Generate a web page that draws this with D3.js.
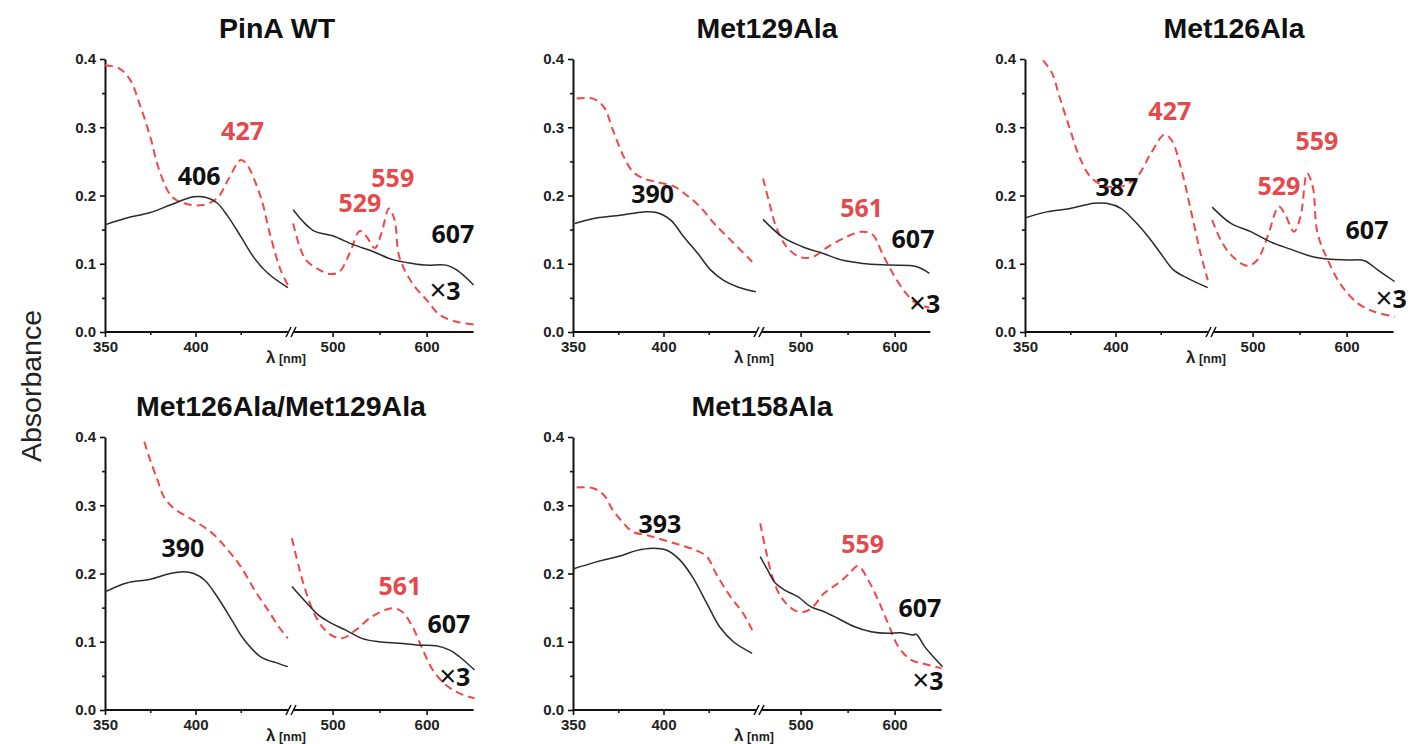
<!DOCTYPE html>
<html>
<head>
<meta charset="utf-8">
<script src="https://cdn.jsdelivr.net/npm/d3@7"></script>
<style>
  body { margin: 0; background: #fff; }
  svg { display: block; }
</style>
</head>
<body>
<script>
(function (d3) {
  "use strict";

  /***** Data: [wavelength nm, absorbance] *****/
  // PinA WT
  var wtBlackL = [[350,.157],[362,.167],[375,.175],[386,.186],[399,.198],[406,.197],[412,.189],[418,.169],[425,.14],[432,.110],[440,.086],[451,.065]];
  var wtRedL = [[350,.391],[358,.386],[364,.369],[369,.335],[375,.286],[380,.237],[387,.198],[395,.1875],[404,.186],[412,.196],[418,.223],[425,.252],[428,.247],[436,.198],[441,.145],[447,.091],[451,.069]];
  var wtBlackR = [[458,.179],[479,.149],[500,.141],[522,.128],[543,.118],[564,.106],[585,.1005],[600,.098],[621,.098],[632,.091],[650,.069]];
  var wtRedR = [[458,.159],[465,.125],[472,.105],[486,.091],[497,.085],[507,.088],[518,.115],[529,.148],[536,.140],[545,.123],[552,.145],[560,.181],[566,.164],[571,.110],[585,.071],[600,.047],[614,.025],[632,.015],[650,.011]];
  var wtLabels = [["406",402,.215,"k"],["427",426,.281,"r"],["529",529,.176,"r"],["559",564,.2125,"r"],["607",628,.130,"k"],["x3",619.6,.047,"k"]];

  // Met129Ala
  var m129BlackL = [[351,.159],[363,.167],[376,.171],[389,.176],[396,.175],[404,.164],[411,.140],[419,.115],[426,.091],[433,.076],[441,.066],[451,.059]];
  var m129RedL = [[352,.342],[361,.342],[367,.330],[372,.296],[378,.257],[383,.235],[389,.225],[396,.220],[406,.213],[413,.200],[420,.184],[428,.159],[437,.135],[449,.103]];
  var m129BlackR = [[460,.165],[481,.139],[502,.125],[524,.115],[545,.105],[566,.1005],[595,.098],[623,.096],[637,.086]];
  var m129RedR = [[460,.225],[467,.188],[474,.154],[485,.125],[499,.110],[513,.110],[527,.123],[545,.137],[566,.147],[577,.142],[587,.115],[598,.086],[612,.057],[623,.042],[637,.036]];
  var m129Labels = [["390",394,.189,"k"],["561",565,.1685,"r"],["607",619.6,.123,"k"],["x3",632,.028,"k"]];

  // Met126Ala
  var m126BlackL = [[350,.167],[362,.176],[375,.181],[388,.1885],[395,.1885],[403,.181],[410,.164],[418,.140],[425,.115],[432,.091],[440,.0785],[451,.065]];
  var m126RedL = [[360,.398],[365,.379],[369,.345],[375,.296],[380,.257],[386,.228],[393,.215],[403,.213],[412,.228],[419.6,.262],[427,.289],[431,.281],[436,.242],[442,.174],[447,.115],[451,.076]];
  var m126BlackR = [[457,.183],[477,.159],[498,.147],[519,.132],[541,.121],[562,.111],[583,.1065],[601,.1055],[619,.1045],[633,.091],[651,.074]];
  var m126RedR = [[457,.164],[466,.135],[477,.113],[494,.097],[505,.1055],[516,.140],[528,.184],[535,.171],[544,.147],[551,.169],[558,.2325],[564,.213],[569,.145],[580,.1055],[594,.069],[612,.042],[629,.030],[651,.0225]];
  var m126Labels = [["387",400.8,.199,"k"],["427",430,.3106,"r"],["529",528,.2007,"r"],["559",568.5,.2667,"r"],["607",621.7,.136,"k"],["x3",664,.035,"k"]];

  // Met126Ala/Met129Ala
  var dblBlackL = [[350,.173],[362,.186],[375,.1915],[386,.200],[393.5,.2027],[399,.200],[405,.1905],[412,.166],[420,.132],[427,.1025],[436,.078],[446,.068],[451,.0635]];
  var dblRedL = [[371.7,.393],[375,.366],[379,.337],[382.5,.3125],[388,.2955],[395.5,.283],[403,.271],[410.5,.256],[418,.234],[425,.210],[432.6,.176],[440,.1465],[446,.122],[451,.105]];
  var dblBlackR = [[456.7,.181],[471,.159],[485,.139],[499,.127],[514,.117],[531,.105],[549,.100],[570.6,.0977],[592,.095],[610,.094],[624,.088],[635,.078],[651,.0585]];
  var dblRedR = [[456.7,.2515],[464,.210],[471,.176],[482,.137],[496,.112],[510,.105],[524.5,.117],[542,.137],[563.6,.149],[574,.144],[585,.122],[596,.088],[606.6,.0586],[620.6,.0366],[635,.0244],[651,.017]];
  var dblLabels = [["390",393,.224,"k"],["561",571.7,.1685,"r"],["607",623.8,.113,"k"],["x3",630,.035,"k"]];

  // Met158Ala
  var m158BlackL = [[350,.2065],[363,.217],[376,.2256],[385,.2335],[394,.237],[401.5,.2344],[409,.220],[416,.195],[424,.156],[431,.122],[438.6,.100],[449,.083]];
  var m158RedL = [[352,.326],[361,.325],[367,.315],[372,.293],[378,.2735],[383,.261],[391,.256],[400,.249],[409,.242],[418,.234],[424,.2246],[429,.200],[437,.166],[444,.1417],[449,.117]];
  var m158BlackR = [[457,.2246],[465,.205],[472,.188],[482.6,.176],[497,.166],[511,.151],[525,.144],[540,.134],[557.5,.122],[575,.1147],[593,.1123],[607,.1133],[619.5,.110],[623,.111],[632,.0928],[642.6,.0757],[651,.0635]];
  var m158RedR = [[457,.2735],[463,.234],[470,.195],[479,.166],[493,.1465],[504,.144],[513,.151],[525,.171],[540,.1856],[550.5,.198],[561,.211],[572,.190],[582.5,.161],[593,.127],[604,.0928],[618,.073],[632,.0674],[650,.061]];
  var m158Labels = [["393",398,.259,"k"],["559",566,.23,"r"],["607",627,.136,"k"],["x3",635.5,.029,"k"]];

  // Axis ticks
  var yTicks = [0, 0.1, 0.2, 0.3, 0.4];
  var yMinor = [0.05, 0.15, 0.25, 0.35];
  var xTicksL = [350, 400], xMinorL = [375, 425];
  var xTicksR = [500, 600], xMinorR = [550];

  /***** Layout *****/
  var panels = [
    { title: "PinA WT", tx: 172, x: 105, y: 59, xMax: 650, bl: wtBlackL, rl: wtRedL, br: wtBlackR, rr: wtRedR, labels: wtLabels },
    { title: "Met129Ala", tx: 194, x: 573, y: 59, xMax: 638, bl: m129BlackL, rl: m129RedL, br: m129BlackR, rr: m129RedR, labels: m129Labels },
    { title: "Met126Ala", tx: 209, x: 1025, y: 59, xMax: 650, bl: m126BlackL, rl: m126RedL, br: m126BlackR, rr: m126RedR, labels: m126Labels, edge: true },
    { title: "Met126Ala/Met129Ala", tx: 176, x: 105, y: 437, xMax: 650, bl: dblBlackL, rl: dblRedL, br: dblBlackR, rr: dblRedR, labels: dblLabels },
    { title: "Met158Ala", tx: 189, x: 573, y: 437, xMax: 650, bl: m158BlackL, rl: m158RedL, br: m158BlackR, rr: m158RedR, labels: m158Labels }
  ];
  var plotH = 273;
  var RED = "#f0474a", RED_TXT = "#e5484d", INK = "#111";
  var fontArial = "'Liberation Sans', Arial, Helvetica, sans-serif";
  var fontLbl = "'Open Sans', 'Noto Sans', sans-serif";

  var svg = d3.select("body").append("svg")
    .attr("width", 1418)
    .attr("height", 744);

  svg.append("text")
    .attr("transform", "translate(41,386) rotate(-90)")
    .attr("text-anchor", "middle")
    .attr("font-family", fontArial)
    .attr("font-size", 28.5)
    .attr("fill", "#222")
    .text("Absorbance");

  var y = d3.scaleLinear().domain([0, 0.4]).range([plotH, 0]);

  panels.forEach(function (p) {
    var xL = d3.scaleLinear().domain([350, 450]).range([0, 181]);
    var xR = d3.scaleLinear().domain([460, p.xMax]).range([190, 190 + 0.94 * (p.xMax - 460)]);
    var xPos = function (nm) { return nm < 455 ? xL(nm) : xR(nm); };

    var g = svg.append("g").attr("transform", "translate(" + p.x + "," + p.y + ")");

    var endX = xR.range()[1];
    g.append("text")
      .attr("x", p.tx)
      .attr("y", -21)
      .attr("text-anchor", "middle")
      .attr("font-family", fontArial)
      .attr("font-weight", "bold")
      .attr("font-size", 28.5)
      .attr("fill", INK)
      .text(p.title);

    // y axis
    var ya = g.append("g")
      .call(d3.axisLeft(y).tickValues(yTicks).tickFormat(d3.format(".1f")).tickSize(5).tickSizeOuter(0).tickPadding(4));
    g.append("g")
      .call(d3.axisLeft(y).tickValues(yMinor).tickFormat("").tickSize(3))
      .select(".domain").remove();

    // x axis, two segments with a break
    var xb = g.append("g").attr("transform", "translate(0," + plotH + ")");
    var xaL = xb.append("g").call(d3.axisBottom(xL).tickValues(xTicksL).tickSize(5).tickPadding(4));
    var xaR = xb.append("g").call(d3.axisBottom(xR).tickValues(xTicksR).tickSize(5).tickPadding(4));
    xb.append("g").call(d3.axisBottom(xL).tickValues(xMinorL).tickFormat("").tickSize(3));
    xb.append("g").call(d3.axisBottom(xR).tickValues(xMinorR).tickFormat("").tickSize(3));
    xb.selectAll(".domain").remove();
    xb.append("line").attr("x1", 0).attr("x2", 184).attr("stroke", INK).attr("stroke-width", 2);
    xb.append("line").attr("x1", 189).attr("x2", endX).attr("stroke", INK).attr("stroke-width", 2);
    [184, 189].forEach(function (bx) {
      xb.append("line")
        .attr("x1", bx - 3).attr("y1", 5).attr("x2", bx + 2).attr("y2", -5)
        .attr("stroke", INK).attr("stroke-width", 1.6);
    });

    [ya, xaL, xaR].forEach(function (a) {
      a.attr("font-family", fontArial).attr("font-size", 15).attr("font-weight", "bold");
      a.selectAll(".tick text").attr("fill", "#222");
    });
    g.selectAll(".domain").attr("stroke", INK).attr("stroke-width", 2);
    g.selectAll(".tick line").attr("stroke", INK).attr("stroke-width", 1.6);

    // lambda label
    var lam = xb.append("text")
      .attr("x", 181)
      .attr("y", 31)
      .attr("text-anchor", "middle")
      .attr("font-family", fontArial)
      .attr("font-weight", "bold")
      .attr("fill", "#222");
    lam.append("tspan").attr("font-size", 17).text("\u03bb");
    lam.append("tspan").attr("font-size", 12.5).text(" [nm]");

    // spectra
    var lineL = d3.line().x(function (d) { return xL(d[0]); }).y(function (d) { return y(d[1]); }).curve(d3.curveCatmullRom.alpha(0.5));
    var lineR = d3.line().x(function (d) { return xR(d[0]); }).y(function (d) { return y(d[1]); }).curve(d3.curveCatmullRom.alpha(0.5));

    [[p.rl, lineL], [p.rr, lineR]].forEach(function (s) {
      g.append("path").datum(s[0]).attr("d", s[1])
        .attr("fill", "none").attr("stroke", RED).attr("stroke-width", 2)
        .attr("stroke-dasharray", "8,5");
    });
    [[p.bl, lineL], [p.br, lineR]].forEach(function (s) {
      g.append("path").datum(s[0]).attr("d", s[1])
        .attr("fill", "none").attr("stroke", "#2a2a2a").attr("stroke-width", 1.5);
    });

    // peak labels
    p.labels.forEach(function (l) {
      var isX = l[0] === "x3";
      var t = g.append("text")
        .attr("x", xPos(l[1]))
        .attr("y", y(l[2]))
        .attr("text-anchor", isX && p.edge ? "end" : "middle")
        .attr("font-family", fontLbl)
        .attr("font-weight", "bold")
        .attr("font-size", 25)
        .attr("fill", l[3] === "r" ? RED_TXT : INK);
      if (isX) {
        t.append("tspan").attr("font-family", fontArial).attr("font-weight", "normal").attr("font-size", 29).text("\u00d7");
        t.append("tspan").text("3");
      } else {
        t.text(l[0]);
      }
    });
  });
})(d3);
</script>
</body>
</html>
